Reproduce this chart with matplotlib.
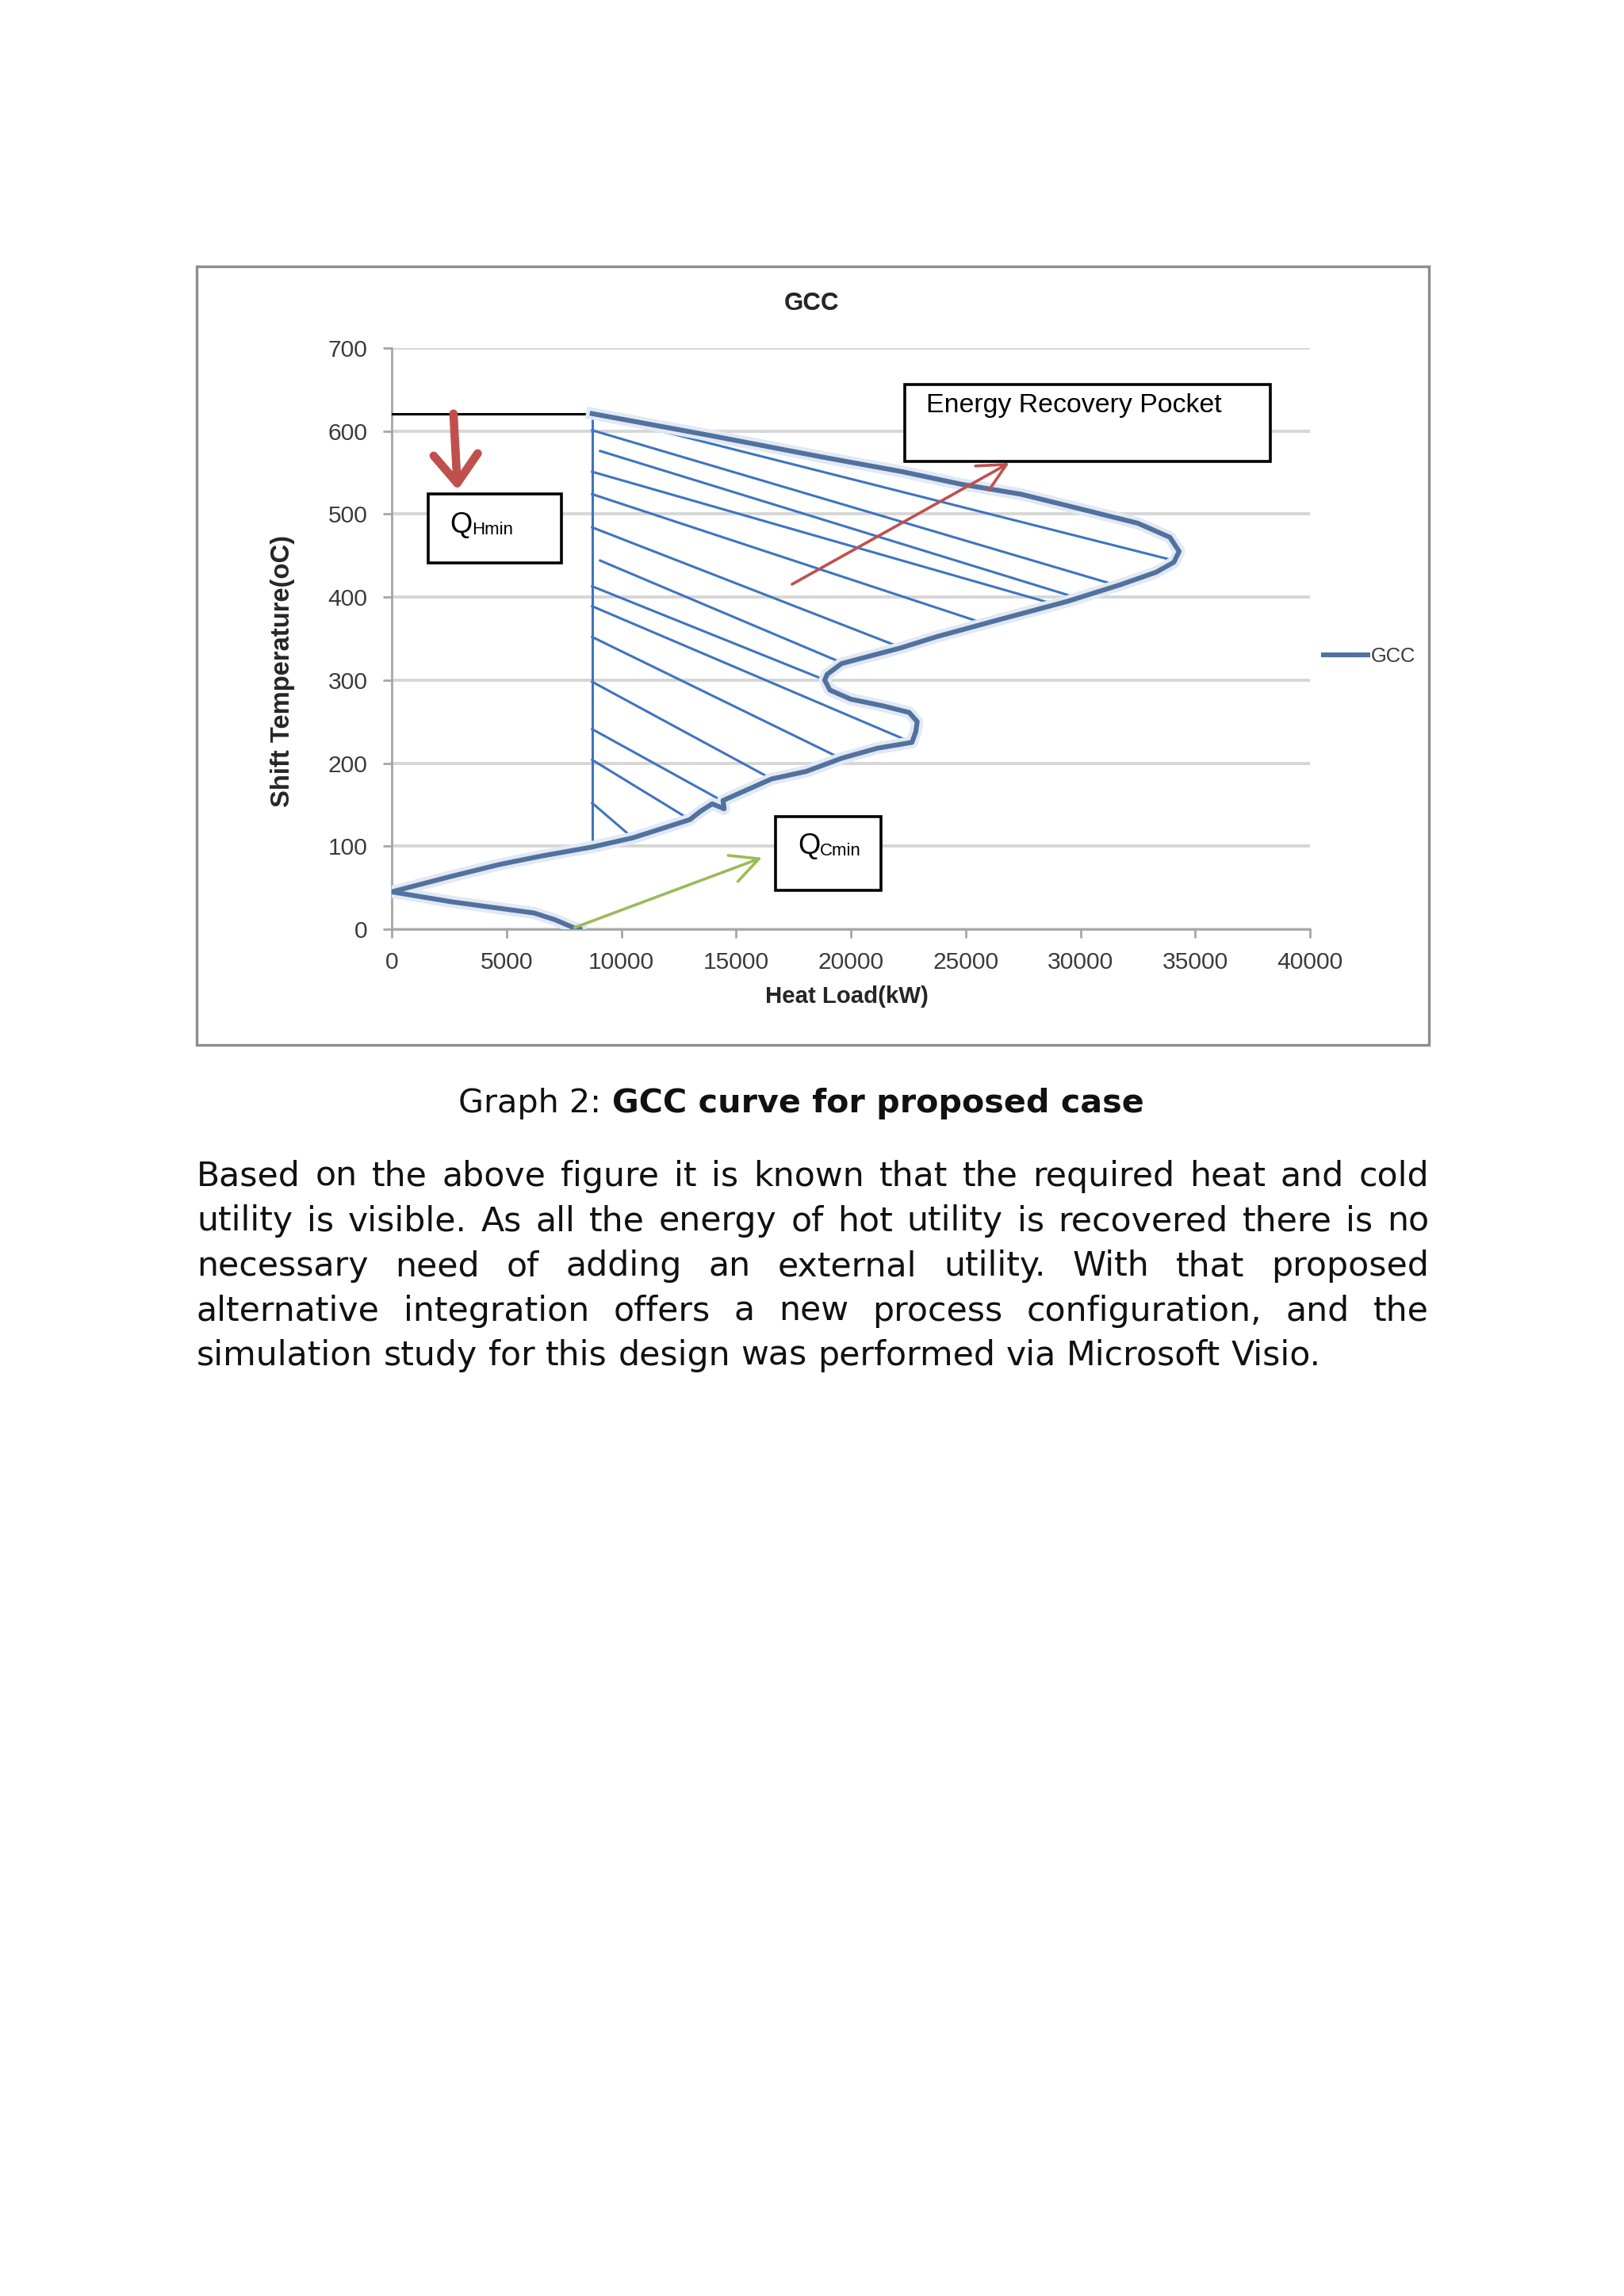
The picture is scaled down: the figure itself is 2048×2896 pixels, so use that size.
import matplotlib
matplotlib.use('Agg')
import matplotlib.pyplot as plt
from matplotlib.patches import Rectangle

W, H = 2048, 2896
DPI = 200

# GCC curve: heat load (kW) vs shift temperature (oC)
heat_load = [8730, 14000, 18700, 22250, 24800, 27400, 29450, 32500, 33900, 34300,
             34070, 33300, 31750, 29450, 26350, 23700, 22200, 19600, 18970, 18860,
             19090, 20000, 21400, 22540, 22890, 22830, 22660, 21160, 19610, 18050,
             16550, 14430, 14480, 13960, 13450, 12990, 10500, 8730, 6500, 4700, 2500,
             0, 2600, 6200, 7100, 7950, 8200]
shift_temp = [621, 594, 569, 551, 536, 524, 510, 489, 472, 455,
              442, 430, 415, 395, 372, 352, 339, 320, 307, 300,
              288, 277, 269, 261, 250, 238, 225, 218, 206, 190,
              181, 155, 145, 151, 142, 132, 110, 99, 88, 78, 63,
              45, 33, 19.5, 11.5, 1.5, 0]

# energy recovery pocket: boundary line and hatch strokes
pocket_load = 8730
pocket_top = 621
pocket_bottom = 99
hatch_x0 = [8730, 8730, 9080, 8730, 8730, 8730, 9080, 8730, 8730, 8730, 8730, 8730, 8730, 8730]
hatch_t0 = [621, 601, 576, 551, 524, 484, 444, 413, 389, 352, 298, 241, 204, 152]
hatch_x1 = [34090, 31600, 29980, 29050, 25840, 22210, 19690, 18890, 22310, 19620, 16550, 14370, 12990, 10500]
hatch_t1 = [444, 414, 398, 390, 368, 339, 320, 300, 229, 205, 181, 155, 132, 110]

x_ticks = list(range(0, 40001, 5000))
y_ticks = list(range(0, 701, 100))

caption_plain = "Graph 2:"
caption_bold = "GCC curve for proposed case"
paragraph = [
    "Based on the above figure it is known that the required heat and cold",
    "utility is visible. As all the energy of hot utility is recovered there is no",
    "necessary need of adding an external utility. With that proposed",
    "alternative integration offers a new process configuration, and the",
    "simulation study for this design was performed via Microsoft Visio.",
]

plt.rcParams['font.family'] = ['Liberation Sans', 'DejaVu Sans']

fig = plt.figure(figsize=(W / DPI, H / DPI), dpi=DPI)
fig.patch.set_facecolor('white')


def fx(x):
    return x / W


def fy(y):
    return 1 - y / H


# chart frame
fig.patches.append(Rectangle((fx(248), fy(1318)), (1802 - 248) / W, (1318 - 336) / H,
                             transform=fig.transFigure, fill=False,
                             edgecolor='#8c8c8c', lw=1.2))

ax = fig.add_axes([fx(494), fy(1172), (1652 - 494) / W, (1172 - 439) / H])
ax.set_xlim(0, 40000)
ax.set_ylim(0, 700)
ax.set_xticks(x_ticks)
ax.set_yticks(y_ticks)
ax.set_xticklabels([str(v) for v in x_ticks])
ax.set_yticklabels([str(v) for v in y_ticks])
ax.yaxis.grid(True, color='#d6d6d6', lw=1.4)
ax.set_axisbelow(True)
for s in ['top', 'right']:
    ax.spines[s].set_visible(False)
for s in ['left', 'bottom']:
    ax.spines[s].set_color('#a6a6a6')
    ax.spines[s].set_linewidth(1.0)
ax.tick_params(axis='both', colors='#a6a6a6', length=4, width=1.0, direction='out',
               labelsize=10.8, labelcolor='#3a3a3a')
ax.tick_params(axis='x', pad=6)
ax.tick_params(axis='y', pad=7)

# hot utility line and pocket boundary
ax.plot([0, pocket_load], [pocket_top, pocket_top], color='black', lw=1.1, zorder=3)
ax.plot([pocket_load, pocket_load], [pocket_top, pocket_bottom], color='#3f74c0', lw=1.1, zorder=3)
for a, b, c, d in zip(hatch_x0, hatch_t0, hatch_x1, hatch_t1):
    ax.plot([a, c], [b, d], color='#3f74c0', lw=1.1, zorder=3)

# GCC with a soft halo like the scanned excel line
ax.plot(heat_load, shift_temp, color='#e1e9f4', lw=5.5, solid_joinstyle='round', zorder=4)
ax.plot(heat_load, shift_temp, color='#52719f', lw=2.2, solid_joinstyle='round', zorder=5,
        label='GCC')

leg = ax.legend(loc='center left', bbox_to_anchor=(1.0147, 0.4693), frameon=False,
                fontsize=9.2, handlelength=2.2, handletextpad=0.15,
                borderpad=0, borderaxespad=0)
for t in leg.get_texts():
    t.set_color('#3a3a3a')

# annotation boxes
box_kw = dict(facecolor='white', edgecolor='black', lw=1.3, zorder=6, clip_on=False)
ax.add_patch(Rectangle((22350, 563.5), 38270 - 22350, 656 - 563.5, **box_kw))
ax.add_patch(Rectangle((1590, 441), 7390 - 1590, 524 - 441, **box_kw))
ax.add_patch(Rectangle((16720, 46.6), 21300 - 16720, 136 - 46.6, **box_kw))

# arrows
ax.annotate('', xy=(2870, 529), xytext=(2690, 621),
            arrowprops=dict(arrowstyle='->,head_length=0.65,head_width=0.5', lw=3.8,
                            color='#c0504d', mutation_scale=20, shrinkA=0, shrinkB=0),
            zorder=7)
ax.annotate('', xy=(26900, 561.6), xytext=(17440, 415.5),
            arrowprops=dict(arrowstyle='->,head_length=0.7,head_width=0.35', lw=1.3,
                            color='#c0504d', mutation_scale=18, shrinkA=0, shrinkB=0),
            zorder=7)
ax.annotate('', xy=(16130, 86.2), xytext=(7960, 1.9),
            arrowprops=dict(arrowstyle='->,head_length=0.7,head_width=0.35', lw=1.3,
                            color='#9bbb59', mutation_scale=18, shrinkA=0, shrinkB=0),
            zorder=7)

renderer = fig.canvas.get_renderer()


def width_px(s, **kw):
    t = fig.text(0, 0, s, **kw)
    w = t.get_window_extent(renderer).width
    t.remove()
    return w


fig.text(fx(1168), fy(520), 'Energy Recovery Pocket', fontsize=12.2, color='black',
         ha='left', va='baseline', zorder=10)


def q_label(x, y, sub):
    fig.text(fx(x), fy(y), 'Q', fontsize=13, ha='left', va='baseline', zorder=10)
    wq = width_px('Q', fontsize=13)
    fig.text(fx(x + wq), fy(y + 2), sub, fontsize=8, ha='left', va='baseline', zorder=10)


q_label(567, 672, 'Hmin')
q_label(1006, 1077, 'Cmin')

# chart titles
fig.text(fx(1024), fy(383), 'GCC', fontsize=11.3, fontweight='bold', color='#262626',
         ha='center', va='center')
fig.text(fx(1068), fy(1257), 'Heat Load(kW)', fontsize=10.6, fontweight='bold',
         color='#262626', ha='center', va='center')
fig.text(fx(357), fy(846), 'Shift Temperature(oC)', fontsize=11.8, fontweight='bold',
         color='#262626', ha='center', va='center', rotation=90)

# document text below the chart
body = dict(family='DejaVu Sans', color='#111111')
body_size = 10 * 1416 / width_px(paragraph[-1], fontsize=10, **body)
space_w = width_px('a a', fontsize=body_size, **body) - width_px('aa', fontsize=body_size, **body)

cap_size = body_size * 0.97
cap_space = width_px('a a', fontsize=cap_size, **body) - width_px('aa', fontsize=cap_size, **body)
w_plain = width_px(caption_plain, fontsize=cap_size, **body) + cap_space
w_bold = width_px(caption_bold, fontsize=cap_size, fontweight='bold', **body)
cap_left = 1010.5 - (w_plain + w_bold) / 2
fig.text(fx(cap_left), fy(1403.5), caption_plain, fontsize=cap_size,
         ha='left', va='baseline', **body)
fig.text(fx(cap_left + w_plain), fy(1403.5), caption_bold, fontsize=cap_size,
         fontweight='bold', ha='left', va='baseline', **body)

left, right = 248, 1802
baselines = [1496, 1552.5, 1609, 1666, 1722]
for i, (line, yb) in enumerate(zip(paragraph, baselines)):
    words = line.split(' ')
    widths = [width_px(w, fontsize=body_size, **body) for w in words]
    if i < len(paragraph) - 1:
        gap = (right - left - sum(widths)) / (len(words) - 1)
    else:
        gap = space_w
    x = left
    for w, wd in zip(words, widths):
        fig.text(fx(x), fy(yb), w, fontsize=body_size, ha='left', va='baseline', **body)
        x += wd + gap

fig.savefig('out.png', dpi=DPI, facecolor='white')
